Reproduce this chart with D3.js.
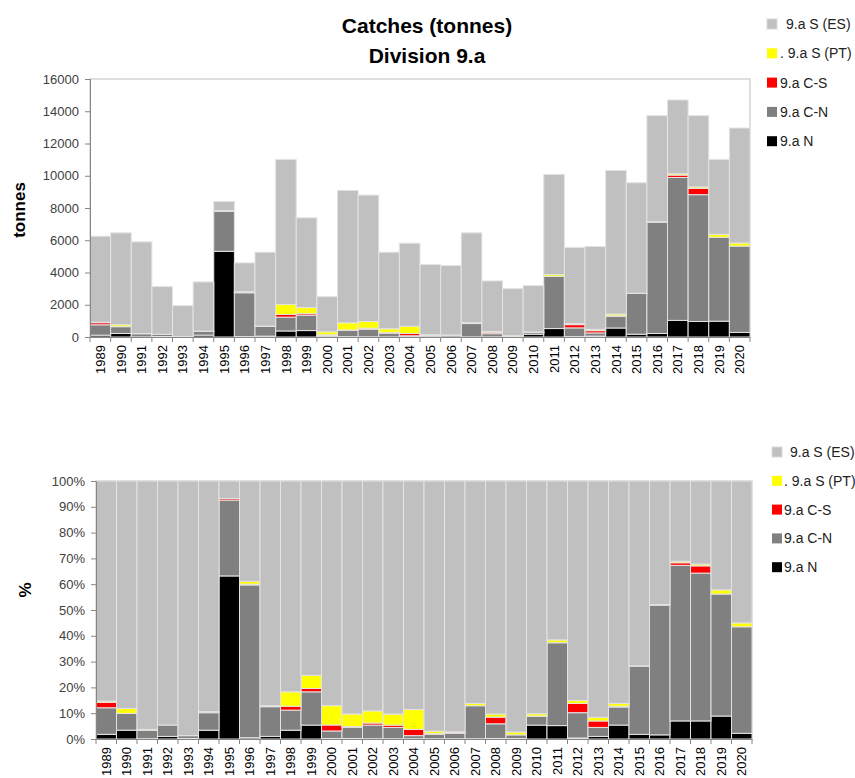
<!DOCTYPE html>
<html><head><meta charset="utf-8">
<script src="https://cdn.jsdelivr.net/npm/d3@7"></script>
<style>
body{margin:0;background:#fff;}
text{font-family:"Liberation Sans",Arial,sans-serif;}
</style></head>
<body><svg id="c" width="855" height="778"></svg>
<script>
const years = d3.range(1989, 2021).map(String);
const seriesKeys = ["N","CN","CS","PT","ES"];
const seriesLabels = ["9.a N","9.a C-N","9.a C-S",". 9.a S (PT)","9.a S (ES)"];
const seriesColors = ["#000000","#808080","#ff0000","#ffff00","#c0c0c0"];
// tonnes per year
const N  = [113,220,6,31,4,116,5313,23,53,374,399,5,18,9,5,6,4,4,6,7,6,172,524,22,56,558,172,220,1029,961,980,285];
const CN = [644,420,195,138,21,232,2471,2721,605,859,953,73,391,466,231,70,76,93,827,198,42,108,3237,544,196,723,2525,6891,8864,7866,5210,5353];
const CS = [131,0,0,0,0,14,50,14,0,165,96,58,27,70,47,140,18,13,0,90,0,3,0,200,140,31,19,41,147,384,0,0];
const PT = [31,123,18,0,0,0,0,51,21,617,377,188,445,414,226,448,40,13,58,42,33,29,111,61,79,114,0,0,88,96,176,194];
const ES = [5331,5697,5681,2957,1921,3054,572,1787,4580,8999,5566,2181,8208,7840,4750,5154,4355,4308,5569,3141,2921,2876,6211,4722,5140,8905,6849,6575,4572,4420,4648,7129];
const tonneTicks = [0,2000,4000,6000,8000,10000,12000,14000,16000];
const pctTicks = [0,0.1,0.2,0.3,0.4,0.5,0.6,0.7,0.8,0.9,1];

const rows = years.map((y,i)=>({year:y,N:N[i],CN:CN[i],CS:CS[i],PT:PT[i],ES:ES[i]}));
const svg = d3.select("#c");
const color = d3.scaleOrdinal(seriesKeys, seriesColors);

function drawChart(cfg){
  const g = svg.append("g");
  const x = d3.scaleBand(years, [cfg.x0, cfg.x1]).padding(0);
  const y = d3.scaleLinear(cfg.domain, [cfg.y0, cfg.y1]);
  const stack = d3.stack().keys(seriesKeys);
  if (cfg.expand) stack.offset(d3.stackOffsetExpand);
  const layers = stack(rows);
  // plot border
  g.append("rect").attr("x",cfg.x0).attr("y",cfg.y1).attr("width",cfg.x1-cfg.x0).attr("height",cfg.y0-cfg.y1)
    .attr("fill","none").attr("stroke","#bfbfbf").attr("stroke-width",1);
  g.selectAll("g.layer").data(layers).join("g").attr("class","layer")
    .attr("fill",d=>color(d.key))
    .selectAll("rect").data(d=>d).join("rect")
      .attr("x",d=>x(d.data.year))
      .attr("width",x.bandwidth())
      .attr("y",d=>y(d[1]))
      .attr("height",d=>Math.max(0,y(d[0])-y(d[1])))
      .attr("stroke","#e3e3e3").attr("stroke-width",1);
  // y axis
  const ya = g.append("g").attr("transform",`translate(${cfg.x0},0)`)
    .call(d3.axisLeft(y).tickValues(cfg.ticks).tickSize(5).tickPadding(6).tickFormat(cfg.fmt));
  ya.select(".domain").attr("stroke","#868686");
  ya.selectAll(".tick line").attr("stroke","#868686");
  ya.selectAll("text").attr("font-size",13).attr("fill","#404040");
  // x axis
  const xa = g.append("g").attr("transform",`translate(0,${cfg.y0})`)
    .call(d3.axisBottom(x).tickSize(0).tickPadding(0));
  xa.select(".domain").attr("stroke","#868686");
  xa.selectAll(".tick text")
    .attr("transform","rotate(-90)")
    .attr("text-anchor","end").attr("x",-8).attr("y",0).attr("dy","0.35em")
    .attr("font-size",13).attr("fill","#000");
  const bounds = years.map(yr=>x(yr)).concat([cfg.x1]);
  g.append("g").selectAll("line").data(bounds).join("line")
    .attr("x1",d=>d).attr("x2",d=>d).attr("y1",cfg.y0).attr("y2",cfg.y0+5)
    .attr("stroke","#868686");
  // axis title
  g.append("text").attr("transform",`translate(${cfg.tx},${cfg.ty}) rotate(-90)`)
    .attr("text-anchor","middle").attr("dominant-baseline","central")
    .attr("font-weight","bold").attr("font-size",cfg.tsize).text(cfg.title);
  // legend
  const items = seriesKeys.map((k,i)=>({k,label:seriesLabels[i]})).reverse();
  const lg = g.append("g");
  items.forEach((it,i)=>{
    const cy = cfg.ly0 + i*cfg.lstep;
    lg.append("rect").attr("x",cfg.lx).attr("y",cy-5).attr("width",10).attr("height",10)
      .attr("fill",color(it.k)).attr("stroke", it.k==="ES"?"#d9d9d9":"none");
    lg.append("text").attr("x", cfg.lx + (it.k==="ES"?cfg.ltxES:cfg.ltx)).attr("y",cy)
      .attr("dominant-baseline","central").attr("font-size",14).attr("fill","#222").text(it.label);
  });
}

svg.append("text").attr("x",427).attr("y",33).attr("text-anchor","middle")
  .attr("font-weight","bold").attr("font-size",21).text("Catches (tonnes)");
svg.append("text").attr("x",427).attr("y",63).attr("text-anchor","middle")
  .attr("font-weight","bold").attr("font-size",21).text("Division 9.a");

drawChart({x0:90,x1:750,y0:337,y1:79,domain:[0,16000],ticks:tonneTicks,fmt:d3.format("d"),
  title:"tonnes",tx:19,ty:210,tsize:17,lx:767,ly0:24,lstep:29.3,ltx:13,ltxES:19});
drawChart({x0:96,x1:752,y0:739,y1:481,domain:[0,1],ticks:pctTicks,fmt:d3.format(".0%"),expand:true,
  title:"%",tx:25,ty:590,tsize:17,lx:772,ly0:452,lstep:28.8,ltx:12,ltxES:18});
</script></body></html>
